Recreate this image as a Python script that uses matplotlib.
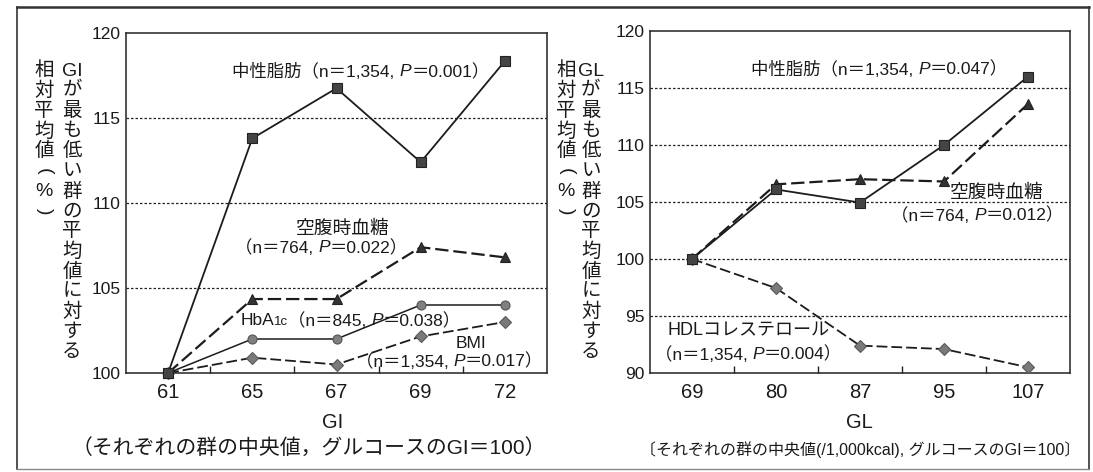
import matplotlib
matplotlib.use("Agg")
import matplotlib.pyplot as plt
from matplotlib.lines import Line2D
from matplotlib.transforms import ScaledTranslation, IdentityTransform
import numpy as np

FONT = ["Liberation Sans", "Noto Sans CJK JP", "DejaVu Sans"]
plt.rcParams["font.family"] = FONT

W, H = 1093, 472

# GI panel: relative mean vs lowest-GI group (%)
gi_groups = ["61", "65", "67", "69", "72"]
gi_tg = [100, 113.8, 116.75, 112.4, 118.35]
gi_fpg = [100, 104.35, 104.35, 107.4, 106.8]
gi_hba1c = [100, 102.0, 102.0, 104.0, 104.0]
gi_bmi = [100, 100.9, 100.5, 102.15, 103.0]
gi_yticks = [100, 105, 110, 115, 120]

# GL panel
gl_groups = ["69", "80", "87", "95", "107"]
gl_tg = [100, 106.1, 104.95, 110.0, 116.0]
gl_fpg = [100, 106.55, 107.0, 106.8, 113.6]
gl_hdl = [100, 97.45, 92.4, 92.1, 90.5]
gl_yticks = [90, 95, 100, 105, 110, 115, 120]

DASH = (0, (6, 2.2))
INK = "#1a1a1a"


def rich(ax, x, y, parts, size=12.5):
    """Draw text pieces left to right, centred on (x, y) in data coords."""
    fig = ax.figure
    r = fig.canvas.get_renderer()
    items = []
    for s, kw in parts:
        t = ax.text(x, y, s, fontsize=kw.get("size", size),
                    fontstyle=kw.get("style", "normal"), ha="left",
                    va="center_baseline", color=INK, clip_on=False)
        items.append(t)
    widths = [t.get_window_extent(r).width for t in items]
    off = -sum(widths) / 2
    for t, w, (s, kw) in zip(items, widths, parts):
        t.set_transform(ax.transData + ScaledTranslation(
            off / fig.dpi, kw.get("dy", 0) / fig.dpi, fig.dpi_scale_trans))
        off += w


def vcol(fig, x, y0, chars, step=20.1, size=14):
    """Vertical (top-to-bottom) column of characters in pixel coords."""
    for i, c in enumerate(chars):
        rot = -90 if c in "()" else 0
        fig.text(x, H - (y0 + i * step), c, transform=IdentityTransform(),
                 ha="center", va="center", fontsize=size, rotation=rot,
                 rotation_mode="anchor" if rot else "default", color=INK)


def style_axes(ax, groups, yticks):
    x = np.arange(len(groups))
    ax.set_xlim(-0.5, len(groups) - 0.5)
    ax.set_ylim(yticks[0], yticks[-1])
    ax.set_xticks(x, groups)
    ax.set_xticks(x[:-1] + 0.5, minor=True)
    ax.set_yticks(yticks, [str(v) for v in yticks])
    ax.tick_params(axis="x", which="major", length=0, pad=7, labelsize=14.5,
                   labelcolor=INK)
    ax.tick_params(axis="x", which="minor", direction="in", length=5,
                   width=1, color="#222")
    ax.tick_params(axis="y", length=0, pad=4, labelsize=12.5, labelcolor=INK)
    for s in ax.spines.values():
        s.set_linewidth(1.1)
        s.set_color("#222")
    for v in yticks[1:-1]:
        ax.axhline(v, color="#222", lw=0.9, ls=(0, (2, 1.6)), zorder=1)


def series(ax, y, marker, ls, lw, fc, ec, ms, z):
    ax.plot(np.arange(len(y)), y, color="#1c1c1c", ls=ls, lw=lw,
            marker=marker, ms=ms, mfc=fc, mec=ec, mew=0.8, clip_on=False,
            zorder=z)


fig = plt.figure(figsize=(W / 100, H / 100), dpi=100)
ax1 = fig.add_axes([126 / W, 1 - 373 / H, (547 - 126) / W, (373 - 33) / H])
ax2 = fig.add_axes([650 / W, 1 - 373 / H, (1070 - 650) / W, (373 - 31) / H])

# left: GI
style_axes(ax1, gi_groups, gi_yticks)
series(ax1, gi_bmi, "D", DASH, 1.3, "#7a7a7a", "#5a5a5a", 6.5, 3)
series(ax1, gi_hba1c, "o", "-", 1.1, "#808080", "#555", 6.5, 4)
series(ax1, gi_fpg, "^", DASH, 1.6, "#333", "#222", 7.5, 5)
series(ax1, gi_tg, "s", "-", 1.3, "#444", "#222", 7, 6)

rich(ax1, 2.29, 117.8, [("中性脂肪（n＝1,354, ", {}), ("P", {"style": "italic"}),
                        ("＝0.001）", {})])
rich(ax1, 2.07, 108.6, [("空腹時血糖", {"size": 13.5})])
rich(ax1, 1.82, 107.45, [("（n＝764, ", {}), ("P", {"style": "italic"}),
                         ("＝0.022）", {})])
rich(ax1, 2.17, 103.15, [("HbA", {}), ("1c", {"size": 9.5, "dy": -1}),
                         ("（n＝845, ", {}), ("P", {"style": "italic"}),
                         ("＝0.038）", {})])
rich(ax1, 3.6, 101.85, [("BMI", {})])
rich(ax1, 3.34, 100.78, [("（n＝1,354, ", {}), ("P", {"style": "italic"}),
                         ("＝0.017）", {})])

# right: GL
style_axes(ax2, gl_groups, gl_yticks)
series(ax2, gl_hdl, "D", DASH, 1.3, "#7a7a7a", "#5a5a5a", 6.5, 3)
series(ax2, gl_fpg, "^", DASH, 1.6, "#333", "#222", 7.5, 5)
series(ax2, gl_tg, "s", "-", 1.3, "#444", "#222", 7, 6)

rich(ax2, 2.23, 116.75, [("中性脂肪（n＝1,354, ", {}), ("P", {"style": "italic"}),
                         ("＝0.047）", {})])
rich(ax2, 3.63, 105.9, [("空腹時血糖", {"size": 13.5})])
rich(ax2, 3.40, 103.95, [("（n＝764, ", {}), ("P", {"style": "italic"}),
                         ("＝0.012）", {})])
rich(ax2, 0.67, 93.85, [("HDLコレステロール", {"size": 13})])
rich(ax2, 0.67, 91.75, [("（n＝1,354, ", {}), ("P", {"style": "italic"}),
                        ("＝0.004）", {})])

# vertical y labels
ylab_outer = ["相", "対", "平", "均", "値", "(", "%", ")"]
ylab_gi = ["GI", "が", "最", "も", "低", "い", "群", "の", "平", "均",
           "値", "に", "対", "す", "る"]
ylab_gl = ["GL"] + ylab_gi[1:]
vcol(fig, 44, 71, ylab_outer)
vcol(fig, 72, 71, ylab_gi)
vcol(fig, 566, 71, ylab_outer)
vcol(fig, 591, 71, ylab_gl)

# x labels and captions
fig.text(333, H - 422, "GI", transform=IdentityTransform(), ha="center",
         va="center", fontsize=14.5, color=INK)
fig.text(309, H - 448, "（それぞれの群の中央値，グルコースのGI＝100）",
         transform=IdentityTransform(), ha="center", va="center",
         fontsize=15, color=INK)
fig.text(859, H - 423, "GL", transform=IdentityTransform(), ha="center",
         va="center", fontsize=14.5, color=INK)
fig.text(860, H - 450, "〔それぞれの群の中央値(/1,000kcal), グルコースのGI＝100〕",
         transform=IdentityTransform(), ha="center", va="center",
         fontsize=11.5, color=INK)

# outer frame
frame = dict(transform=fig.transFigure, color="#333")
x0, x1, y0, y1 = 17 / W, 1089 / W, 1 - 7 / H, 1 - 469 / H
fig.add_artist(Line2D([x0, x1], [y0, y0], lw=1.8, **frame))
fig.add_artist(Line2D([x0, x0], [y0, y1], lw=1.2, **frame))
fig.add_artist(Line2D([x1, x1], [y0, y1], lw=1.2, **frame))
fig.add_artist(Line2D([x0, x1], [y1, y1], lw=1.0, transform=fig.transFigure,
                      color="#888"))

fig.savefig("out.png", dpi=100, facecolor="white")
